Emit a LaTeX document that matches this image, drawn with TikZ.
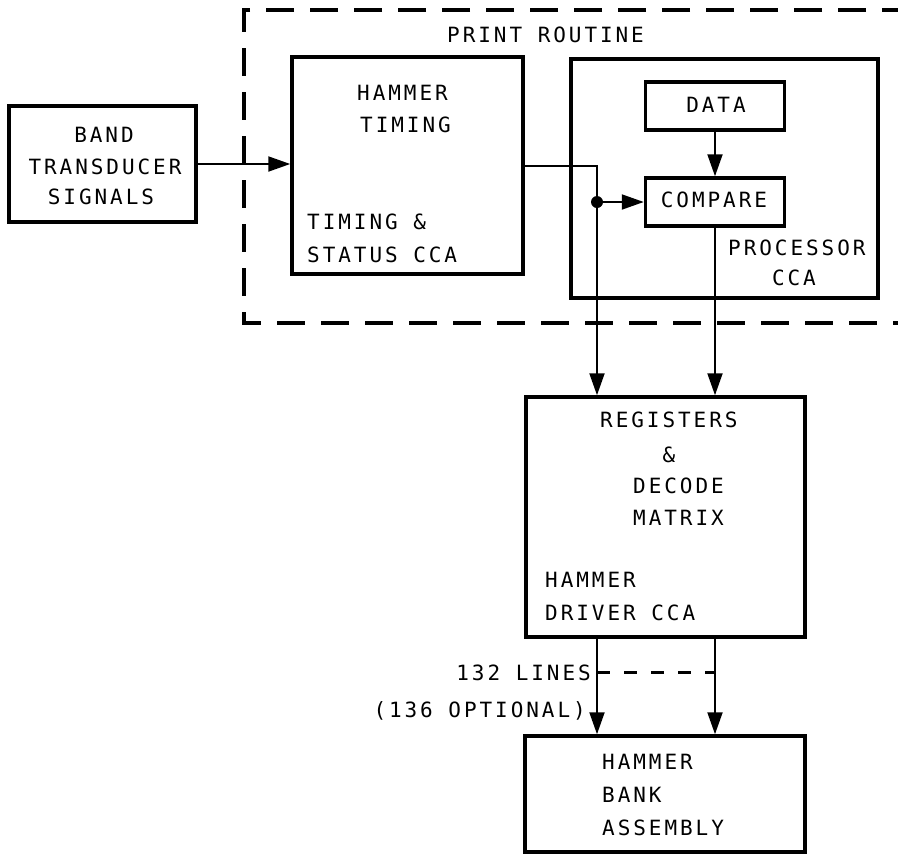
\documentclass[tikz,border=0pt]{standalone}
\usepackage{fontspec}
\setmainfont{DejaVu Sans Mono}[LetterSpace=14]
\usetikzlibrary{arrows.meta}
\begin{document}
\begin{tikzpicture}[x=1pt,y=-1pt,
  box/.style={draw, line width=3.5pt, inner sep=0pt},
  lbl/.style={inner sep=0pt, font=\fontsize{21}{32}\selectfont},
  conn/.style={line width=2pt},
  arr/.style={conn, -{Triangle[length=22pt,width=15pt]}},
  frame/.style={line width=3.5pt, dash pattern=on 28pt off 16pt},
  optline/.style={line width=3pt, dash pattern=on 13pt off 14pt}]
\useasboundingbox (0,0) rectangle (898,855);

% dashed PRINT ROUTINE frame (open to the right)
\coordinate (frTR) at (910,10);
\coordinate (frTL) at (244,10);
\coordinate (frBL) at (244,323);
\coordinate (frBR) at (910,323);
\draw[frame] (frTR) -- (frTL) -- (frBL) -- (frBR);
\node[lbl, anchor=base west] (prt) at (447,42.5) {PRINT ROUTINE};

% boxes
\node[box, minimum width=187pt, minimum height=116pt] (band) at (102.5,164) {};
\node[box, minimum width=231pt, minimum height=217pt] (timing) at (407.5,165.5) {};
\node[box, minimum width=307pt, minimum height=239pt] (proc) at (724.5,178.5) {};
\node[box, minimum width=139pt, minimum height=48pt] (data) at (715,106) {};
\node[box, minimum width=139pt, minimum height=48pt] (compare) at (715,202) {};
\node[box, minimum width=279pt, minimum height=240pt] (reg) at (665.5,517) {};
\node[box, minimum width=280pt, minimum height=116pt] (bank) at (665,794) {};

% texts
\node[lbl, anchor=base] (t1) at (104,142.5) {BAND};
\node[lbl, anchor=base] (t2) at (105,174.5) {TRANSDUCER};
\node[lbl, anchor=base] (t3) at (101,204.5) {SIGNALS};

\node[lbl, anchor=base west] (t4) at (357,100.5) {HAMMER};
\node[lbl, anchor=base west] (t5) at (360,132.5) {TIMING};
\node[lbl, anchor=base west] (t6) at (307,229.5) {TIMING \&};
\node[lbl, anchor=base west] (t7) at (307,262.5) {STATUS CCA};

\node[lbl, anchor=base] (t8) at (716,112.5) {DATA};
\node[lbl, anchor=base] (t9) at (714,207.5) {COMPARE};
\node[lbl, anchor=base west] (t10) at (728,255.5) {PROCESSOR};
\node[lbl, anchor=base] (t11) at (794,285.5) {CCA};

\node[lbl, anchor=base west] (t12) at (600,427.5) {REGISTERS};
\node[lbl, anchor=base] (t13) at (669,462.5) {\&};
\node[lbl, anchor=base west] (t14) at (633,493.5) {DECODE};
\node[lbl, anchor=base west] (t15) at (633,525.5) {MATRIX};
\node[lbl, anchor=base west] (t16) at (545,587.5) {HAMMER};
\node[lbl, anchor=base west] (t17) at (545,620.5) {DRIVER CCA};

\node[lbl, anchor=base east] (t18) at (591,680.5) {132 LINES};
\node[lbl, anchor=base east] (t19) at (586,717.5) {(136 OPTIONAL)};

\node[lbl, anchor=base west] (t20) at (602,769.5) {HAMMER};
\node[lbl, anchor=base west] (t21) at (602,802.5) {BANK};
\node[lbl, anchor=base west] (t22) at (602,835.5) {ASSEMBLY};

% connectors
\coordinate (j) at (597,202);
\coordinate (dl) at (0,672);
\draw[arr] (band.east) -- (band.east -| timing.west);
\draw[arr] (timing.east) -| (j |- reg.north);
\fill (j) circle (6pt);
\draw[arr] (j) -- (compare.west);
\draw[arr] (data.south) -- (compare.north);
\draw[arr] (compare.south) -- (compare.south |- reg.north);
\draw[arr] (j |- reg.south) -- (j |- bank.north);
\draw[arr] (compare.south |- reg.south) -- (compare.south |- bank.north);
\draw[optline] (j |- dl) -- (compare.south |- dl);
\end{tikzpicture}
\end{document}
